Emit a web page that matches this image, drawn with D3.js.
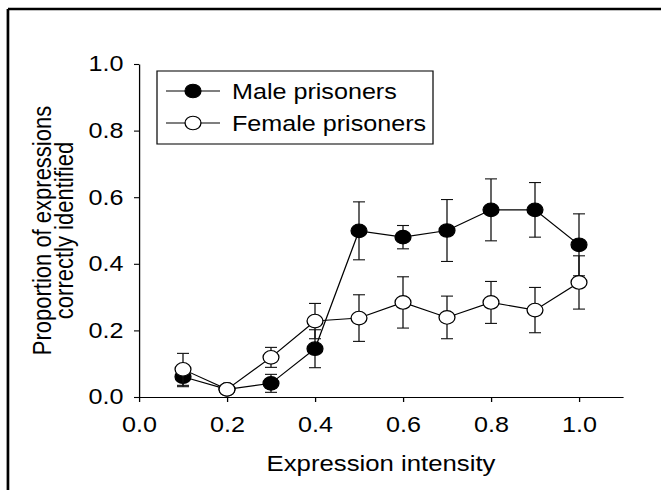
<!DOCTYPE html>
<html>
<head>
<meta charset="utf-8">
<script src="https://cdn.jsdelivr.net/npm/d3@7"></script>
<style>
  body { margin: 0; background: #fff; }
  text { font-family: "Liberation Sans", Arial, sans-serif; fill: #000; }
</style>
</head>
<body>
<div id="chart"></div>
<script>
// data
var intensity = [0.1, 0.2, 0.3, 0.4, 0.5, 0.6, 0.7, 0.8, 0.9, 1.0];
var maleMean = [0.061, 0.023, 0.041, 0.145, 0.499, 0.48, 0.50, 0.562, 0.562, 0.457];
var maleErr = [0.03, 0.005, 0.027, 0.057, 0.087, 0.035, 0.093, 0.093, 0.082, 0.093];
var femaleMean = [0.083, 0.023, 0.119, 0.228, 0.237, 0.284, 0.239, 0.284, 0.261, 0.344];
var femaleErr = [0.048, 0.005, 0.03, 0.053, 0.07, 0.077, 0.064, 0.063, 0.068, 0.08];
var xTicks = [0, 0.2, 0.4, 0.6, 0.8, 1.0];
var yTicks = [0, 0.2, 0.4, 0.6, 0.8, 1.0];
var seriesNames = ["Male prisoners", "Female prisoners"];

var W = 661, H = 490;
var SX = 1.17;           // the original figure is stretched sideways
var VW = W / SX;

var svg = d3.select("#chart").append("svg")
  .attr("width", W)
  .attr("height", H)
  .attr("viewBox", "0 0 " + VW + " " + H)
  .attr("preserveAspectRatio", "none");

// frame (top and left only)
svg.append("line")
  .attr("x1", 6.8).attr("x2", VW).attr("y1", 9).attr("y2", 9)
  .style("stroke", "#000").style("stroke-width", 2.7);
svg.append("line")
  .attr("x1", 6.8).attr("x2", 6.8).attr("y1", 9).attr("y2", H)
  .style("stroke", "#000").style("stroke-width", 2.3);

var x = d3.scaleLinear().domain([0, 1.1]).range([139 / SX, 623 / SX]);
var y = d3.scaleLinear().domain([0, 1]).range([397, 64]);

var xAxis = svg.append("g")
  .attr("transform", "translate(0," + y(0) + ")")
  .call(d3.axisBottom(x).tickValues(xTicks).tickFormat(d3.format(".1f"))
    .tickSize(5).tickSizeOuter(0).tickPadding(15));
var yAxis = svg.append("g")
  .attr("transform", "translate(" + x(0) + ",0)")
  .call(d3.axisLeft(y).tickValues(yTicks).tickFormat(d3.format(".1f"))
    .tickSize(4.3).tickSizeOuter(0).tickPadding(9));

[xAxis, yAxis].forEach(function (a) {
  a.select(".domain").style("stroke", "#000").style("stroke-width", 1.1);
  a.selectAll(".tick line").style("stroke", "#000").style("stroke-width", 1.1);
  a.selectAll("text")
    .style("font-size", "21.5px")
    .style("font-family", "'Liberation Sans', Arial, sans-serif")
    .style("fill", "#000");
});

svg.append("text")
  .attr("x", (x(0) + x(1.1)) / 2)
  .attr("y", 471)
  .attr("text-anchor", "middle")
  .style("font-size", "22px")
  .text("Expression intensity");

var yMid = (y(0) + y(1)) / 2;
svg.append("text")
  .attr("transform", "translate(43.5," + yMid + ") rotate(-90)")
  .attr("text-anchor", "middle")
  .style("font-size", "22px")
  .text("Proportion of expressions");
svg.append("text")
  .attr("transform", "translate(62," + yMid + ") rotate(-90)")
  .attr("text-anchor", "middle")
  .style("font-size", "22px")
  .text("correctly identified");

var series = [
  {name: seriesNames[0], mean: maleMean, err: maleErr, fill: "#000"},
  {name: seriesNames[1], mean: femaleMean, err: femaleErr, fill: "#fff"}
];

var CAP = 6 / SX;
var R = 6.8;

var line = d3.line()
  .x(function (d) { return x(d.x); })
  .y(function (d) { return y(d.m); });

series.forEach(function (s) {
  var pts = intensity.map(function (v, i) { return {x: v, m: s.mean[i], e: s.err[i]}; });
  var g = svg.append("g");

  var bars = g.append("g").selectAll("g").data(pts).enter().append("g");
  bars.append("line")
    .attr("x1", d => x(d.x)).attr("x2", d => x(d.x))
    .attr("y1", d => y(d.m - d.e)).attr("y2", d => y(d.m + d.e));
  bars.append("line")
    .attr("x1", d => x(d.x) - CAP).attr("x2", d => x(d.x) + CAP)
    .attr("y1", d => y(d.m + d.e)).attr("y2", d => y(d.m + d.e));
  bars.append("line")
    .attr("x1", d => x(d.x) - CAP).attr("x2", d => x(d.x) + CAP)
    .attr("y1", d => y(d.m - d.e)).attr("y2", d => y(d.m - d.e));
  bars.selectAll("line").style("stroke", "#111").style("stroke-width", 1.1);

  g.append("path")
    .attr("d", line(pts))
    .style("fill", "none")
    .style("stroke", "#000")
    .style("stroke-width", 1.1);

  g.append("g").selectAll("circle").data(pts).enter().append("circle")
    .attr("cx", d => x(d.x))
    .attr("cy", d => y(d.m))
    .attr("r", R)
    .style("fill", s.fill)
    .style("stroke", "#000")
    .style("stroke-width", 1.1);
});

// legend
var legend = svg.append("g");
legend.append("rect")
  .attr("x", 157 / SX).attr("y", 71)
  .attr("width", (433 - 157) / SX).attr("height", 73)
  .style("fill", "#fff")
  .style("stroke", "#111")
  .style("stroke-width", 1.1);

var rows = legend.selectAll(".row").data(series).enter().append("g")
  .attr("class", "row")
  .attr("transform", (d, i) => "translate(0," + (91 + i * 32) + ")");
rows.append("line")
  .attr("x1", 166 / SX).attr("x2", 220 / SX)
  .style("stroke", "#000").style("stroke-width", 1.1);
rows.append("circle")
  .attr("cx", 193 / SX).attr("r", R)
  .style("fill", d => d.fill)
  .style("stroke", "#000").style("stroke-width", 1.1);
rows.append("text")
  .attr("x", 232 / SX)
  .attr("dy", "0.35em")
  .style("font-size", "21.5px")
  .text(d => d.name);
</script>
</body>
</html>
